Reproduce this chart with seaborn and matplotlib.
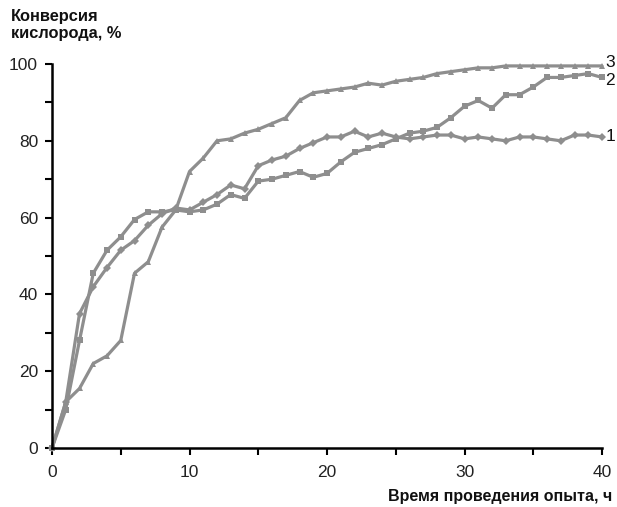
import numpy as np
import pandas as pd
import matplotlib
matplotlib.use("Agg")
import matplotlib.pyplot as plt
import seaborn as sns
from matplotlib.ticker import MultipleLocator

hours = list(range(0, 41))
series1 = [0, 12, 35, 42, 47, 51.5, 54, 58, 61, 62.5, 62, 64, 66, 68.5, 67.5, 73.5, 75, 76, 78, 79.5,
           81, 81, 82.5, 81, 82, 81, 80.5, 81, 81.5, 81.5, 80.5, 81, 80.5, 80, 81, 81, 80.5, 80, 81.5, 81.5, 81]
series2 = [0, 10, 28, 45.5, 51.5, 55, 59.5, 61.5, 61.5, 62, 61.5, 62, 63.5, 66, 65, 69.5, 70, 71, 72, 70.5,
           71.5, 74.5, 77, 78, 79, 80.5, 82, 82.5, 83.5, 86, 89, 90.5, 88.5, 92, 92, 94, 96.5, 96.5, 97, 97.5, 96.5]
series3 = [0, 12, 15.5, 22, 24, 28, 45.5, 48.5, 57.5, 62, 72, 75.5, 80, 80.5, 82, 83, 84.5, 86, 90.5, 92.5,
           93, 93.5, 94, 95, 94.5, 95.5, 96, 96.5, 97.5, 98, 98.5, 99, 99, 99.5, 99.5, 99.5, 99.5, 99.5, 99.5, 99.5, 99.5]
labels = ["1", "2", "3"]
markers = ["D", "s", "^"]

df = pd.concat([
    pd.DataFrame({"t": hours, "v": s, "series": lab})
    for s, lab in zip([series1, series2, series3], labels)
])

sns.set_style("white")
plt.rcParams['font.family'] = ['Liberation Sans', 'DejaVu Sans']

fig = plt.figure(figsize=(6.17, 5.07), dpi=100)
ax = fig.add_axes([52/617, 1-448/507, 550/617, 384/507])

color = "#8e8e8e"
sns.lineplot(data=df, x="t", y="v", hue="series", style="series",
             markers=dict(zip(labels, markers)), dashes=False,
             palette=[color]*3, linewidth=2.3, markersize=4.5,
             markeredgewidth=0, legend=False, ax=ax, clip_on=False)

ax.set_xlim(0, 40)
ax.set_ylim(0, 100)
ax.xaxis.set_major_locator(MultipleLocator(10))
ax.xaxis.set_minor_locator(MultipleLocator(5))
ax.yaxis.set_major_locator(MultipleLocator(20))
ax.yaxis.set_minor_locator(MultipleLocator(10))
ax.tick_params(axis='both', which='both', direction='out', length=5, width=1.5,
               color='black', labelsize=12.5, labelcolor='#222222')
ax.tick_params(axis='x', which='major', pad=7)
ax.tick_params(axis='y', which='major', pad=5)
ax.tick_params(left=True, bottom=True, which='both')
for side in ["top", "right"]:
    ax.spines[side].set_visible(False)
for side in ["left", "bottom"]:
    ax.spines[side].set_color("black")
    ax.spines[side].set_linewidth(1.8)
ax.set_xlabel("")
ax.set_ylabel("")
ax.grid(False)

label_offsets = {"1": 0.0, "2": -0.8, "3": 0.9}
for s, lab in zip([series1, series2, series3], labels):
    ax.text(40.25, s[-1] + label_offsets[lab], lab, fontsize=12.5, va="center", ha="left",
            color="#111111", clip_on=False)

fig.text(11/617, 1-9/507, "Конверсия\nкислорода, %", fontsize=11.8, fontweight="bold",
         ha="left", va="top", linespacing=1.2, color="#111111")
fig.text(612/617, 1-504/507, "Время проведения опыта, ч", fontsize=11.5, fontweight="bold",
         ha="right", va="bottom", color="#111111")

fig.savefig("out.png", dpi=100)
